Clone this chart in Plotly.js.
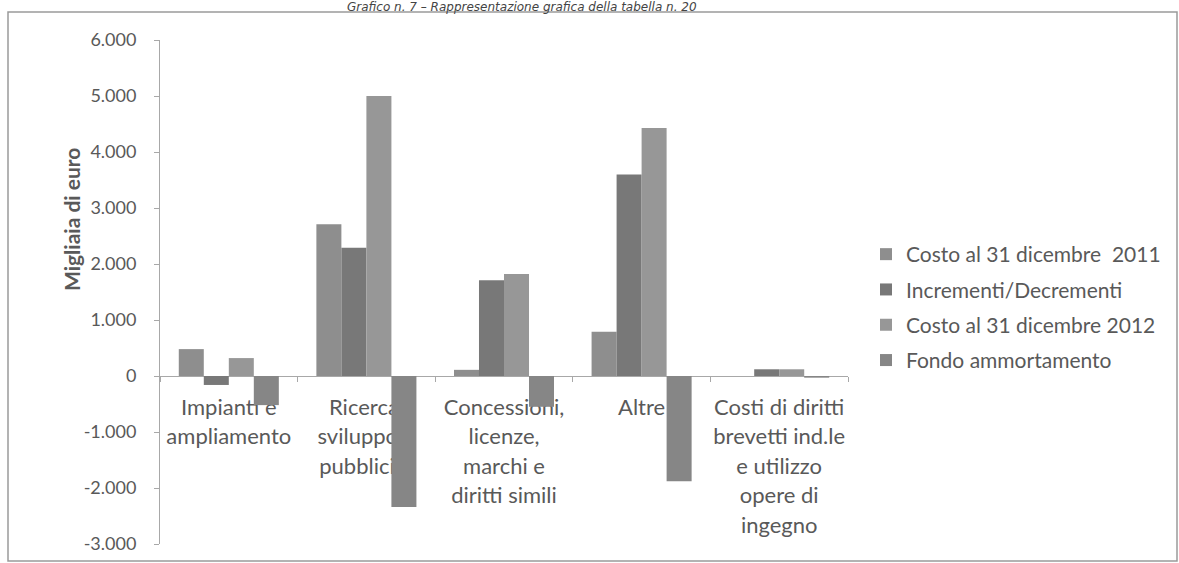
<!DOCTYPE html>
<html><head><meta charset="utf-8">
<script src="https://cdn.plot.ly/plotly-3.0.1.min.js"></script>
<style>html,body{margin:0;padding:0;background:#fff}#chart{width:1179px;height:563px}</style>
</head><body><div id="chart"></div>
<script>
const categories = [
  "Impianti e ampliamento",
  "Ricerca, sviluppo e pubblicità",
  "Concessioni, licenze, marchi e diritti simili",
  "Altre",
  "Costi di diritti brevetti ind.le e utilizzo opere di ingegno"
];
const categoryLabelLines = [
  ["Impianti e", "ampliamento"],
  ["Ricerca,", "sviluppo e", "pubblicità"],
  ["Concessioni,", "licenze,", "marchi e", "diritti simili"],
  ["Altre"],
  ["Costi di diritti", "brevetti ind.le", "e utilizzo", "opere di", "ingegno"]
];
const seriesNames = ["Costo al 31 dicembre\u00a0 2011", "Incrementi/Decrementi", "Costo al 31 dicembre 2012", "Fondo ammortamento"];
const costo2011  = [480, 2710, 110, 790, 0];
const incrementi = [-160, 2290, 1710, 3600, 120];
const costo2012  = [320, 5000, 1820, 4430, 120];
const fondo      = [-520, -2340, -550, -1880, -30];
const yTickVals  = [-3000, -2000, -1000, 0, 1000, 2000, 3000, 4000, 5000, 6000];
const yTickText  = ["-3.000", "-2.000", "-1.000", "0", "1.000", "2.000", "3.000", "4.000", "5.000", "6.000"];
const chartCaption = "Grafico n. 7 \u2013 Rappresentazione grafica della tabella n. 20";
const yTitle = "Migliaia di euro";

const seriesValues = [costo2011, incrementi, costo2012, fondo];
const seriesColors = ["#8e8e8e", "#787878", "#979797", "#868686"];
const textColor = "#595959";
const axisColor = "#a8a8a8";
const FONT = "Lato, 'Open Sans', sans-serif";

const traces = seriesValues.map((vals, i) => ({
  type: "bar", name: seriesNames[i], x: categories, y: vals,
  marker: {color: seriesColors[i], line: {width: 0}},
  legendgroup: "g" + i, xaxis: "x", yaxis: "y"
}));

const linePos = [392, 421, 451, 480, 510];
const plotTop = 40, plotBottom = 544, plotLeft = 160, plotRight = 848;
const H = plotBottom - plotTop, W = plotRight - plotLeft;
const py = p => (plotBottom - p) / H;
const px = p => (p - plotLeft) / W;

const layout = {
  width: 1179, height: 563,
  margin: {l: plotLeft, r: 1179 - plotRight, t: plotTop, b: 563 - plotBottom, pad: 0},
  paper_bgcolor: "#fff", plot_bgcolor: "#fff",
  font: {family: FONT, size: 17, color: textColor},
  barmode: "group", bargap: 0.273, bargroupgap: 0,
  showlegend: true,
  legend: {x: px(866), y: py(234), xanchor: "left", yanchor: "top", tracegroupgap: 5,
           font: {family: FONT, size: 21, color: textColor}, bgcolor: "rgba(0,0,0,0)"},
  xaxis: {type: "category", anchor: "free", position: py(376), range: [-0.5, 4.5],
          showline: true, linecolor: axisColor, linewidth: 1, ticks: "outside", ticklen: 5,
          tickcolor: axisColor, tickson: "boundaries", showticklabels: false,
          showgrid: false, zeroline: false, layer: "below traces", fixedrange: true},
  yaxis: {range: [-3000, 6000], tickmode: "array", tickvals: yTickVals, ticktext: yTickText,
          showline: true, linecolor: axisColor, linewidth: 1, ticks: "outside", ticklen: 5,
          tickcolor: axisColor, showgrid: false, zeroline: false, ticklabelstandoff: 14,
          tickfont: {family: FONT, size: 18, color: textColor}, fixedrange: true},
  annotations: [
    {text: "<i>" + chartCaption + "</i>", xref: "paper", yref: "paper", x: px(522), y: py(-2),
     xanchor: "center", yanchor: "top", showarrow: false,
     font: {family: "'DejaVu Sans', sans-serif", size: 12, color: "#444"}},
    {text: "<b>" + yTitle + "</b>", xref: "paper", yref: "paper", x: px(72), y: py(220),
     xanchor: "center", yanchor: "middle", textangle: -90, showarrow: false,
     font: {family: FONT, size: 21, color: textColor}}
  ],
  shapes: [
    {type: "rect", xref: "paper", yref: "paper", x0: px(8), x1: px(1177), y0: py(561), y1: py(12),
     line: {color: "#9a9a9a", width: 1.5}, fillcolor: "rgba(0,0,0,0)", layer: "below"}
  ]
};

for (let i = 0; i < 5; i++) {
  layout["xaxis" + (i + 2)] = {
    overlaying: "x", anchor: "free", position: py(linePos[i]), type: "linear", range: [-0.5, 4.5],
    tickmode: "array", tickvals: categories.map((_, k) => k),
    ticktext: categoryLabelLines.map(l => l[i] || ""),
    showline: false, ticks: "", showgrid: false, zeroline: false, layer: "below traces",
    tickfont: {family: FONT, size: 22, color: textColor}, side: "bottom", fixedrange: true
  };
  traces.push({type: "scatter", x: [], y: [], xaxis: "x" + (i + 2), yaxis: "y",
               showlegend: false, hoverinfo: "skip"});
}

Plotly.newPlot("chart", traces, layout, {displayModeBar: false, staticPlot: true});
</script>
</body></html>
